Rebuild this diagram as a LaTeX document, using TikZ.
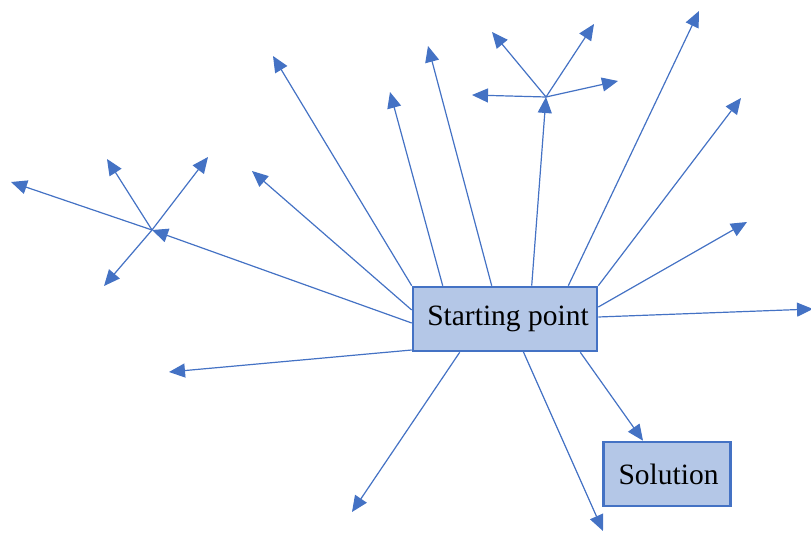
\documentclass[tikz,border=0pt]{standalone}
\usepackage{fontspec}
\setmainfont{Liberation Serif}
\usetikzlibrary{arrows.meta}
\definecolor{officeblue}{HTML}{4472C4}
\definecolor{lightblue}{HTML}{B4C7E7}

\begin{document}
\begin{tikzpicture} [
  x=1pt, y=-1pt,
  ->,
  >={Triangle[length=16pt,width=14pt]},
  every edge/.style={draw, officeblue, line width=1.2pt},
  main node/.style={rectangle,draw=officeblue,fill=lightblue,line width=2.6pt,
    inner sep=0pt,text=black,font=\fontsize{29.5}{35}\selectfont},
  ]
  \useasboundingbox (0,0) rectangle (811,534);

  \node[main node, minimum width=184pt, minimum height=64pt] (sp) at (505,319) {\hspace{6pt}Starting point};
  \node[main node, minimum width=127pt, minimum height=64pt] (sol) at (667,474) {\hspace{3pt}Solution};

  % branch points
  \coordinate (c1) at (152,230);
  \coordinate (c2) at (546,97);

  % free ends
  \coordinate (p1) at (252,171);
  \coordinate (p2) at (273,56);
  \coordinate (p3) at (169,372);
  \coordinate (p4) at (390,92);
  \coordinate (p5) at (428,46);
  \coordinate (p6) at (699,11);
  \coordinate (p7) at (741,98);
  \coordinate (p8) at (747,222);
  \coordinate (p9) at (813,309);
  \coordinate (p10) at (352,512);
  \coordinate (p11) at (603,531);
  \coordinate (q1) at (11,182);
  \coordinate (q2) at (107,159);
  \coordinate (q3) at (208,157);
  \coordinate (q4) at (104,286);
  \coordinate (r1) at (472,95);
  \coordinate (r2) at (492,32);
  \coordinate (r3) at (594,24);
  \coordinate (r4) at (618,81);

  \path
    ([yshift=-4pt]sp.west)          edge (c1)
    ([yshift=9pt]sp.west)           edge (p1)
    (sp.north west)                 edge (p2)
    ([yshift=-31pt]sp.west)         edge (p3)
    ([xshift=31pt]sp.north west)    edge (p4)
    ([xshift=80pt]sp.north west)    edge (p5)
    ([xshift=120pt]sp.north west)   edge (c2)
    ([xshift=-30pt]sp.north east)   edge (p6)
    (sp.north east)                 edge (p7)
    ([yshift=12pt]sp.east)          edge (p8)
    ([yshift=2pt]sp.east)           edge (p9)
    ([xshift=48pt]sp.south west)    edge (p10)
    ([xshift=111pt,yshift=2pt]sp.south west) edge (p11)
    ([xshift=-18pt]sp.south east)   edge ([xshift=-24pt]sol.north);

  \path
    (c1) edge (q1) edge (q2) edge (q3) edge (q4)
    (c2) edge (r1) edge (r2) edge (r3) edge (r4);
\end{tikzpicture}
\end{document}
